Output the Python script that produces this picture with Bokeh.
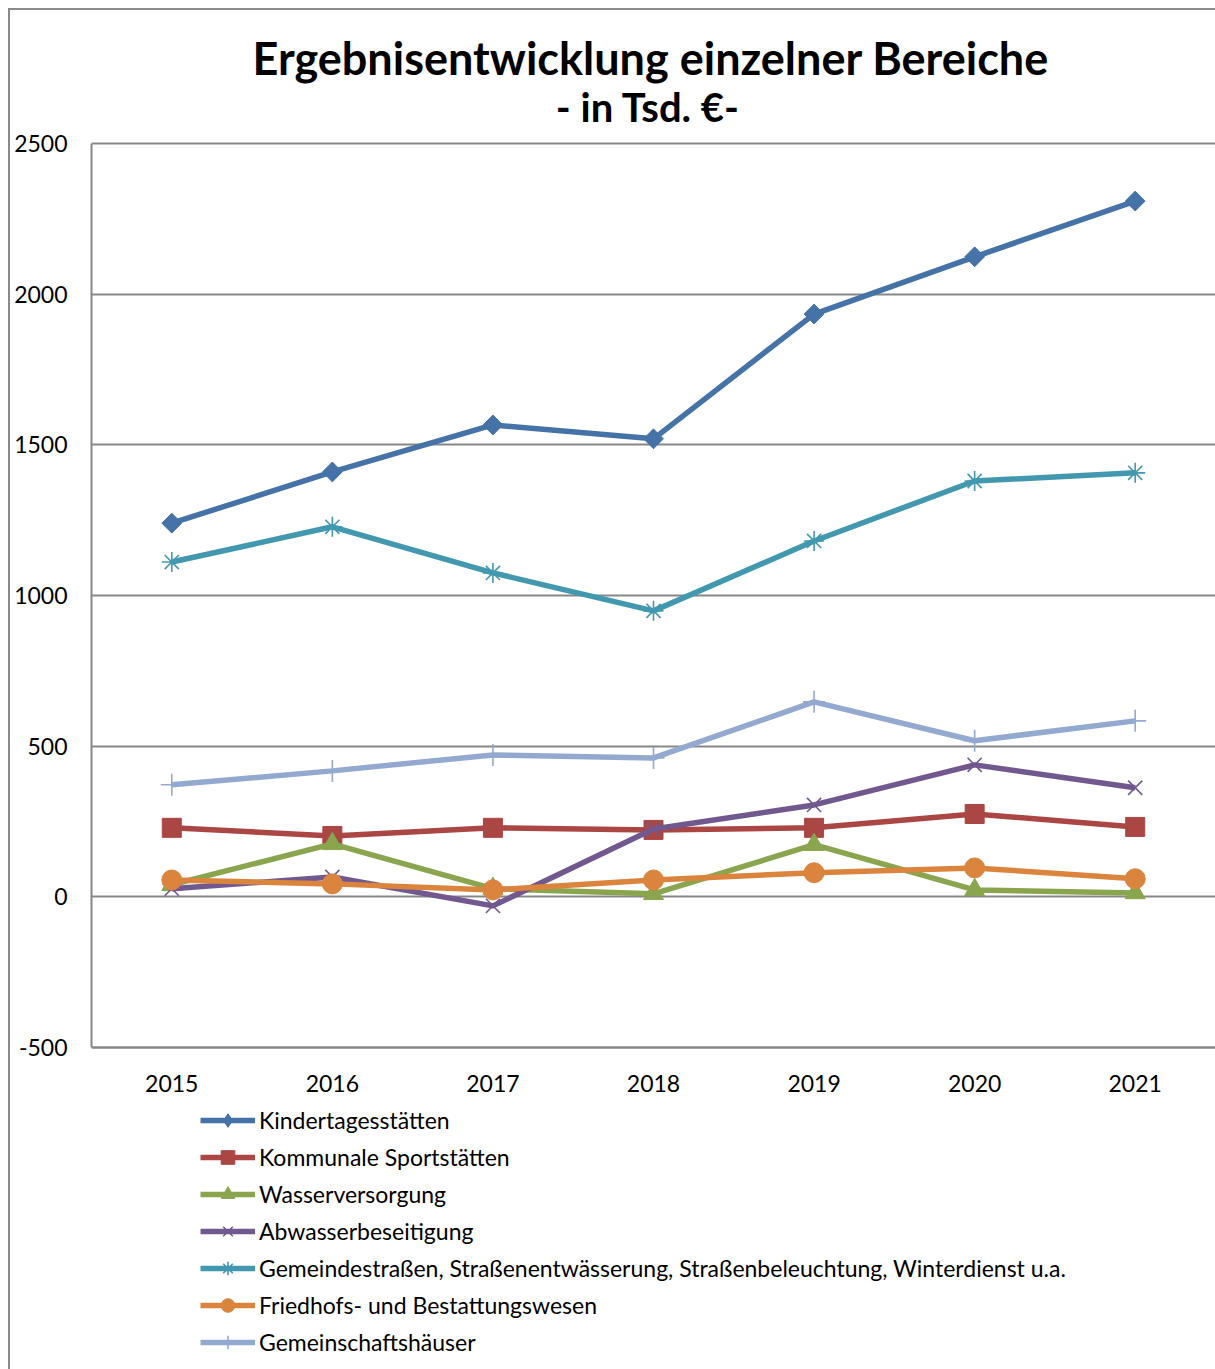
import math
from bokeh.plotting import figure
from bokeh.models import Legend, LegendItem, Title, Label, FixedTicker, Range1d
from bokeh.embed import file_html
from bokeh.resources import INLINE

years = ["2015", "2016", "2017", "2018", "2019", "2020", "2021"]
kita = [1240, 1410, 1566, 1520, 1934, 2124, 2309]
sport = [229, 202, 229, 222, 229, 275, 232]
wasser = [40, 176, 27, 10, 173, 23, 13]
abwasser = [27, 66, -30, 225, 305, 438, 362]
strassen = [1111, 1228, 1075, 949, 1181, 1380, 1407]
friedhof = [56, 43, 23, 56, 80, 96, 60]
gemeinschaft = [372, 418, 471, 461, 647, 518, 584]
y_ticks = [-500, 0, 500, 1000, 1500, 2000, 2500]
y_tick_labels = ["-500", "0", "500", "1000", "1500", "2000", "2500"]

title_text = "Ergebnisentwicklung einzelner Bereiche"
subtitle_text = "- in Tsd. €-"
series_names = [
    "Kindertagesstätten",
    "Kommunale Sportstätten",
    "Wasserversorgung",
    "Abwasserbeseitigung",
    "Gemeindestraßen, Straßenentwässerung, Straßenbeleuchtung, Winterdienst u.a.",
    "Friedhofs- und Bestattungswesen",
    "Gemeinschaftshäuser",
]
series_values = [kita, sport, wasser, abwasser, strassen, friedhof, gemeinschaft]
colors = ["#4572A7", "#AA4643", "#89A54E", "#71588F", "#4198AF", "#DB843D", "#93A9CF"]
markers = ["square", "square", "triangle", "x", "asterisk", "circle", "cross"]
sizes = [14, 19, 20, 20, 20, 20, 22]
angles = [math.pi / 4, 0, 0, 0, 0, 0, 0]
filled = [True, True, True, False, False, True, False]

FONT = "Lato"
GRID = "#878787"

# layout (page pixels)
W, H = 1215, 1369
FRAME_LEFT, FRAME_TOP = 91, 85          # drawing area (frame) edges
TOP_GRID_Y, AXIS_Y = 143, 1047          # pixel rows of 2500 and -500
y_lo, y_hi = y_ticks[0], y_ticks[-1]
px_per_unit = (AXIS_Y - TOP_GRID_Y) / (y_hi - y_lo)
y_end = y_hi + (TOP_GRID_Y - FRAME_TOP) / px_per_unit
y_start = y_lo - (H - AXIS_Y) / px_per_unit

p = figure(width=W, height=H, x_range=years, y_range=Range1d(y_start, y_end),
           output_backend="svg", toolbar_location=None, title=None,
           min_border_left=FRAME_LEFT, min_border_right=0, min_border_top=FRAME_TOP,
           min_border_bottom=0, background_fill_color="white",
           border_fill_color=None, outline_line_color=None)
p.styles = {
    "background": "linear-gradient(#898989,#898989) 8px 8px / 2px calc(100% - 8px) no-repeat, "
                  "linear-gradient(#898989,#898989) 8px 8px / calc(100% - 8px) 2px no-repeat, #ffffff"
}

main = Title(text=title_text, align="left", offset=161,
             text_font=FONT, text_font_size="45px", text_font_style="bold",
             text_color="black", standoff=2)
p.add_layout(main, "above")

sub = Label(text=subtitle_text, x=647.5 - FRAME_LEFT, y=H - 106,
            x_units="screen", y_units="screen", text_align="center",
            text_baseline="alphabetic", text_font=FONT, text_font_size="40px",
            text_font_style="bold", text_color="black")
p.add_layout(sub)

p.xgrid.grid_line_color = None
p.ygrid.ticker = FixedTicker(ticks=y_ticks)
p.ygrid.grid_line_color = GRID
p.ygrid.grid_line_width = 2

p.yaxis.ticker = FixedTicker(ticks=y_ticks)
p.yaxis.major_label_overrides = dict(zip(y_ticks, y_tick_labels))
p.yaxis.bounds = (y_lo, y_hi)
p.xaxis.fixed_location = y_lo
for ax in (p.xaxis[0], p.yaxis[0]):
    ax.axis_line_color = GRID
    ax.axis_line_width = 2
    ax.major_tick_line_color = None
    ax.minor_tick_line_color = None
    ax.major_label_text_font = FONT
    ax.major_label_text_font_size = "23px"
    ax.major_label_text_color = "black"
p.yaxis.major_label_standoff = 18
p.xaxis.major_label_standoff = 21

items = []
for name, vals, c, m, s, a, f in zip(series_names, series_values, colors, markers,
                                      sizes, angles, filled):
    r1 = p.line(years, vals, line_color=c, line_width=5.5)
    rs = [r1]
    if a:
        # upright diamond for the legend key, covered by the rotated square in the plot
        rs.append(p.scatter(years, vals, marker="diamond", size=19,
                            fill_color=c, line_color=c, line_width=1))
    r2 = p.scatter(years, vals, marker=m, size=s, angle=a,
                   fill_color=c if f else None, line_color=c,
                   line_width=1 if f else 1.6)
    if not a:
        rs.append(r2)
    items.append(LegendItem(label=name, renderers=rs))

legend = Legend(items=items, location=(109, 10), orientation="vertical",
                glyph_width=55, glyph_height=34, label_height=34, spacing=3,
                label_standoff=4, padding=0, margin=0,
                label_text_font=FONT, label_text_font_size="23px",
                label_text_color="black", border_line_color=None,
                background_fill_alpha=0)
p.add_layout(legend, "center")

open("out.html", "w").write(file_html(p, INLINE))
